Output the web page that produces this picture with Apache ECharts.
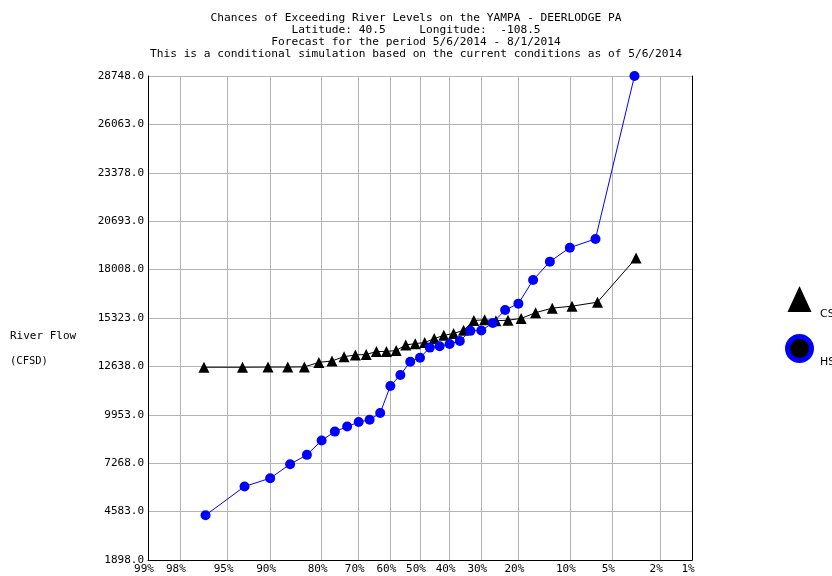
<!DOCTYPE html>
<html>
<head>
<meta charset="utf-8">
<script src="https://cdn.jsdelivr.net/npm/echarts@6/dist/echarts.min.js"></script>
<style>html,body{margin:0;padding:0;background:#fff}#c{width:832px;height:576px}</style>
</head>
<body>
<div id="c"></div>
<script>
// ---- data ----
var titleLines = [
  "Chances of Exceeding River Levels on the YAMPA - DEERLODGE PA",
  "Latitude: 40.5     Longitude:  -108.5",
  "Forecast for the period 5/6/2014 - 8/1/2014",
  "This is a conditional simulation based on the current conditions as of 5/6/2014"
];
var xTickPercents = [99, 98, 95, 90, 80, 70, 60, 50, 40, 30, 20, 10, 5, 2, 1];
var yTicks = [1898.0, 4583.0, 7268.0, 9953.0, 12638.0, 15323.0, 18008.0, 20693.0, 23378.0, 26063.0, 28748.0];

var csExceed = [96.77, 93.55, 90.32, 87.10, 83.87, 80.65, 77.42, 74.19, 70.97, 67.74,
                64.52, 61.29, 58.06, 54.84, 51.61, 48.39, 45.16, 41.94, 38.71, 35.48,
                32.26, 29.03, 25.81, 22.58, 19.35, 16.13, 12.90, 9.68, 6.45, 3.23];
var csFlow = [12590, 12590, 12600, 12600, 12610, 12860, 12940, 13180, 13270, 13300,
              13460, 13470, 13520, 13830, 13900, 13960, 14180, 14360, 14460, 14640,
              15190, 15220, 15170, 15200, 15300, 15620, 15870, 15980, 16200, 18650];

var hsExceed = [96.67, 93.33, 90.00, 86.67, 83.33, 80.00, 76.67, 73.33, 70.00, 66.67,
                63.33, 60.00, 56.67, 53.33, 50.00, 46.67, 43.33, 40.00, 36.67, 33.33,
                30.00, 26.67, 23.33, 20.00, 16.67, 13.33, 10.00, 6.67, 3.33];
var hsFlow = [4380, 5975, 6436, 7213, 7730, 8530, 9020, 9300, 9550, 9675,
              10050, 11553, 12160, 12900, 13120, 13680, 13760, 13880, 14050, 14610,
              14630, 15050, 15770, 16120, 17430, 18450, 19225, 19710, 28748];

// ---- normal probability scale ----
function invNorm(p) {
  var a = [-3.969683028665376e+01, 2.209460984245205e+02, -2.759285104469687e+02, 1.383577518672690e+02, -3.066479806614716e+01, 2.506628277459239e+00];
  var b = [-5.447609879822406e+01, 1.615858368580409e+02, -1.556989798598866e+02, 6.680131188771972e+01, -1.328068155288572e+01];
  var c = [-7.784894002430293e-03, -3.223964580411365e-01, -2.400758277161838e+00, -2.549732539343734e+00, 4.374664141464968e+00, 2.938163982698783e+00];
  var d = [7.784695709041462e-03, 3.224671290700398e-01, 2.445134137142996e+00, 3.754408661907416e+00];
  var pl = 0.02425, q, r;
  if (p < pl) { q = Math.sqrt(-2 * Math.log(p));
    return (((((c[0]*q+c[1])*q+c[2])*q+c[3])*q+c[4])*q+c[5]) / ((((d[0]*q+d[1])*q+d[2])*q+d[3])*q+1); }
  if (p <= 1 - pl) { q = p - 0.5; r = q * q;
    return (((((a[0]*r+a[1])*r+a[2])*r+a[3])*r+a[4])*r+a[5])*q / (((((b[0]*r+b[1])*r+b[2])*r+b[3])*r+b[4])*r+1); }
  q = Math.sqrt(-2 * Math.log(1 - p));
  return -(((((c[0]*q+c[1])*q+c[2])*q+c[3])*q+c[4])*q+c[5]) / ((((d[0]*q+d[1])*q+d[2])*q+d[3])*q+1);
}
function toZ(pct) { return invNorm(1 - pct / 100); }

var xTickZ = xTickPercents.map(toZ);
function pctLabel(v) {
  var best = 0, bd = Infinity;
  for (var i = 0; i < xTickZ.length; i++) { var dd = Math.abs(xTickZ[i] - v); if (dd < bd) { bd = dd; best = i; } }
  return xTickPercents[best] + '%';
}

var csData = csExceed.map(function (p, i) { return [toZ(p), csFlow[i]]; });
var hsData = hsExceed.map(function (p, i) { return [toZ(p), hsFlow[i]]; });

var mono = 'DejaVu Sans Mono';
var sans = 'DejaVu Sans';
var gridColor = '#b4b4b4';

function plainTitle(text, left, top, size, family) {
  return { text: text, left: left, top: top,
    textStyle: { fontFamily: family, fontSize: size, fontWeight: 'normal', color: '#000' } };
}

var chart = echarts.init(document.getElementById('c'), null, { renderer: 'canvas' });
chart.setOption({
  backgroundColor: '#fff',
  animation: false,
  title: [
    { text: titleLines.join('\n'), left: 'center', top: 7,
      textStyle: { fontFamily: mono, fontSize: 11.2, fontWeight: 'normal', color: '#000', lineHeight: 12 } },
    plainTitle('River Flow', 5, 326, 11, mono),
    plainTitle('(CFSD)', 5, 351, 10.5, mono),
    plainTitle('CS', 815, 304, 11, sans),
    plainTitle('HS', 815, 352, 11, sans)
  ],
  legend: {
    orient: 'vertical', left: 780, top: 281,
    itemWidth: 24, itemHeight: 26, itemGap: 22,
    formatter: function () { return ''; },
    textStyle: { fontSize: 1 },
    data: [
      { name: 'CS', icon: 'triangle', itemStyle: { color: '#000' } },
      { name: 'HS', icon: 'circle', itemStyle: { color: '#000', borderColor: '#0000ff', borderWidth: 5 } }
    ]
  },
  grid: { left: 148, right: 140, top: 76, bottom: 16, containLabel: false },
  xAxis: {
    type: 'value', min: toZ(99), max: toZ(1),
    axisLine: { show: true, onZero: false, lineStyle: { color: '#000', width: 1 } },
    axisTick: { show: false, customValues: xTickZ },
    axisLabel: { customValues: xTickZ, formatter: pctLabel, fontFamily: mono, fontSize: 11, color: '#000', margin: 4, padding: [0, 8, 0, 0] },
    splitLine: { show: true, lineStyle: { color: gridColor, width: 1 } }
  },
  yAxis: [{
    type: 'value', min: yTicks[0], max: yTicks[yTicks.length - 1],
    axisLine: { show: true, onZero: false, lineStyle: { color: '#000', width: 1 } },
    axisTick: { show: false, customValues: yTicks },
    axisLabel: { customValues: yTicks, formatter: function (v) { return v.toFixed(1); }, fontFamily: mono, fontSize: 11, color: '#000', margin: 4 },
    splitLine: { show: true, lineStyle: { color: gridColor, width: 1 } }
  }, {
    type: 'value', position: 'right', min: yTicks[0], max: yTicks[yTicks.length - 1],
    axisLine: { show: true, onZero: false, lineStyle: { color: '#000', width: 1 } },
    axisTick: { show: false }, axisLabel: { show: false }, splitLine: { show: false }
  }],
  series: [
    { name: 'CS', type: 'line', data: csData, symbol: 'triangle', symbolSize: 11,
      itemStyle: { color: '#000' }, lineStyle: { color: '#000', width: 1 }, z: 3 },
    { name: 'HS', type: 'line', data: hsData, symbol: 'circle', symbolSize: 10,
      itemStyle: { color: '#0000ff' }, lineStyle: { color: '#0000ff', width: 1 }, z: 4 }
  ]
});
</script>
</body>
</html>
